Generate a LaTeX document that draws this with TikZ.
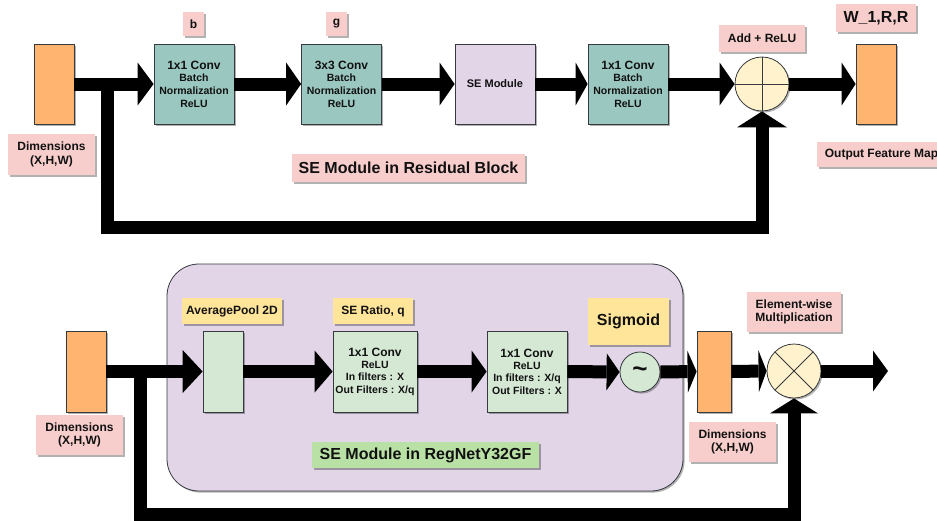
\documentclass[tikz,border=0pt]{standalone}
\usepackage{fontspec}
\setmainfont{Liberation Sans}
\usetikzlibrary{arrows.meta,shadows}

\definecolor{featorange}{HTML}{FFB570}
\definecolor{convteal}{HTML}{9AC7BF}
\definecolor{modpurple}{HTML}{E1D5E7}
\definecolor{notepink}{HTML}{F8CECC}
\definecolor{noteyellow}{HTML}{FFE599}
\definecolor{notegreen}{HTML}{B9E0A5}
\definecolor{softgreen}{HTML}{D5E8D4}
\definecolor{opcream}{HTML}{FFF2CC}
\definecolor{edgegray}{HTML}{36393D}
\definecolor{inktext}{HTML}{111111}

\tikzset{
  softshadow/.style={drop shadow={shadow xshift=1.6pt, shadow yshift=-1.6pt, opacity=0.3, fill=black}},
  fmap/.style={draw=edgegray, line width=0.8pt, fill=featorange, minimum width=40pt, minimum height=80pt, inner sep=0pt, softshadow},
  blockbox/.style={draw=edgegray, line width=0.8pt, minimum width=80pt, minimum height=80pt, inner sep=0pt, align=center, text=inktext,
    font=\bfseries\fontsize{10.5}{12.7}\selectfont, softshadow},
  note/.style={fill=notepink, inner sep=0pt, align=center, text=inktext, font=\bfseries\fontsize{12}{13.5}\selectfont, softshadow},
  opcircle/.style={circle, draw=edgegray, line width=0.8pt, fill=opcream, minimum size=54pt, inner sep=0pt, softshadow},
  fat/.style 2 args={draw=black, line width=13pt, -{Triangle[length=#1pt, width=#2pt, line width=0pt]}},
  fatline/.style={draw=black, line width=13pt},
}

\newcommand{\headline}[1]{{\fontsize{12}{13}\selectfont #1}}

\begin{document}
\begin{tikzpicture}[x=1pt, y=-1pt]
\useasboundingbox (0,0) rectangle (937,520);

% ---------------- Residual block with SE module ----------------
\node[fmap] (in1) at (54,84) {};
\node[note, minimum width=87pt, minimum height=41pt] (dim1) at (51.5,154.5) {Dimensions\\(X,H,W)};

\node[blockbox, fill=convteal] (c11) at (194,84) {\headline{1x1 Conv}\\Batch\\Normalization\\ReLU};
\node[note, minimum width=21pt, minimum height=24pt] (lb) at (193.5,24) {b};

\node[blockbox, fill=convteal] (c33) at (341.5,84) {\headline{3x3 Conv}\\Batch\\Normalization\\ReLU};
\node[note, minimum width=21pt, minimum height=24pt] (lg) at (336.5,24) {g};

\node[blockbox, fill=modpurple, font=\bfseries\fontsize{11}{13}\selectfont] (se) at (495,84) {SE Module};

\node[blockbox, fill=convteal] (c11b) at (628,84) {\headline{1x1 Conv}\\Batch\\Normalization\\ReLU};

\node[opcircle] (add) at (762,84) {};
\draw[edgegray, line width=0.8pt] (add.north) -- (add.south) (add.west) -- (add.east);
\node[note, minimum width=86pt, minimum height=27pt] (laddrelu) at (762,38.5) {Add + ReLU};

\node[fmap] (out1) at (876,84) {};
\node[note, minimum width=80pt, minimum height=28pt, font=\bfseries\fontsize{16}{18}\selectfont] (lw) at (876,18) {W\_1,R,R};
\node[note, minimum width=129pt, minimum height=25pt] (lofm) at (881.5,154.5) {Output Feature Map};

\node[note, minimum width=233pt, minimum height=28pt, font=\bfseries\fontsize{16}{18}\selectfont] (title1) at (408.5,168) {SE Module in Residual Block};

\coordinate (split1) at (107.5,84);
\draw[fat={16}{43}] (in1.east) -- (c11.west);
\draw[fat={15}{43}] (c11.east) -- (c33.west);
\draw[fat={15}{43}] (c33.east) -- (se.west);
\draw[fat={12}{43}] (se.east) -- (c11b.west);
\draw[fat={15}{43}] (c11b.east) -- (add.west);
\draw[fat={14}{43}] (add.east) -- (out1.west);
\draw[fat={16}{50}] (split1) -- ++(0,143) -| (add.south);

% ---------------- SE module of RegNetY32GF ----------------
\node[draw=edgegray, line width=0.8pt, fill=modpurple, rounded corners=32pt, minimum width=516pt, minimum height=227pt, inner sep=0pt, softshadow] (cont) at (425,377.5) {};

\node[fmap, minimum height=81pt] (in2) at (86,371.5) {};
\node[note, minimum width=87pt, minimum height=40pt] (dim2) at (79.5,435) {Dimensions\\(X,H,W)};

\node[blockbox, fill=softgreen, minimum width=40pt, minimum height=81pt] (avg) at (223,371.5) {};
\node[note, fill=noteyellow, minimum width=100pt, minimum height=26pt] (lavg) at (232,311) {AveragePool 2D};

\node[blockbox, fill=softgreen, minimum width=84pt, minimum height=81pt, font=\bfseries\fontsize{10.5}{12.3}\selectfont] (sq) at (375,371.5) {\headline{1x1 Conv}\\ReLU\\In filters : X\\Out Filters : X/q};
\node[note, fill=noteyellow, minimum width=80pt, minimum height=26pt] (lser) at (373,311) {SE Ratio, q};

\node[blockbox, fill=softgreen, minimum width=80pt, minimum height=81pt, font=\bfseries\fontsize{10.5}{12.3}\selectfont] (ex) at (527,371.5) {\headline{1x1 Conv}\\ReLU\\In filters : X/q\\Out Filters : X};

\node[opcircle, fill=softgreen, minimum size=40pt, text=inktext, font=\bfseries\fontsize{26}{26}\selectfont] (sig) at (640,372) {\raisebox{-2pt}{\textasciitilde}};
\node[note, fill=noteyellow, minimum width=81pt, minimum height=47pt, font=\bfseries\fontsize{16}{18}\selectfont] (lsig) at (628.5,321.5) {Sigmoid};

\node[fmap, minimum width=34pt, minimum height=81pt] (out2) at (714,371.5) {};
\node[note, minimum width=87pt, minimum height=40pt] (dim3) at (732.5,442) {Dimensions\\(X,H,W)};

\node[opcircle] (mult) at (794,371) {};
\draw[edgegray, line width=0.8pt] (mult.north east) -- (mult.south west) (mult.north west) -- (mult.south east);
\node[note, minimum width=94pt, minimum height=40pt] (lem) at (794,312) {Element-wise\\Multiplication};

\node[note, fill=notegreen, minimum width=227pt, minimum height=26pt, font=\bfseries\fontsize{16}{18}\selectfont] (title2) at (425.5,455) {SE Module in RegNetY32GF};

\coordinate (split2) at (140,371.5);
\coordinate (result) at (888,371);
\draw[fat={20}{43}] (in2.east) -- (avg.west);
\draw[fat={18}{42}] (avg.east) -- (sq.west);
\draw[fat={15}{42}] (sq.east) -- (ex.west);
\draw[fat={13}{37}] (ex.east) -- (sig.west);
\draw[fat={9}{42}] (sig.east) -- (out2.west);
\draw[fat={8}{42}] (out2.east) -- (mult.west);
\draw[fat={15}{41}] (mult.east) -- (result);
\draw[fat={15}{48}] (split2) -- ++(0,142.5) -| (mult.south);

\end{tikzpicture}
\end{document}
